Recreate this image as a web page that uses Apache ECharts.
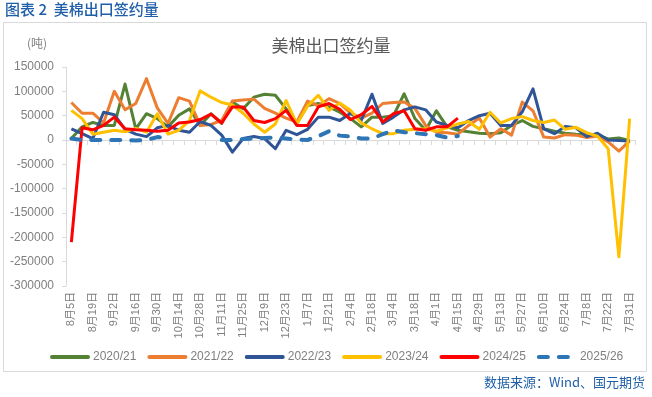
<!DOCTYPE html>
<html>
<head>
<meta charset="utf-8">
<script src="https://cdn.jsdelivr.net/npm/echarts@6/dist/echarts.min.js"></script>
<style>
  html, body { margin: 0; padding: 0; background: #fff; }
  #chart-container { width: 652px; height: 397px; }
</style>
</head>
<body>
<div id="chart-container"></div>
<script>
var dom = document.getElementById("chart-container");
var myChart = echarts.init(dom, null, { renderer: "canvas" });

// weekly categories (every other one is shown on the axis)
var categories = [
  "8月5日", "8月12日", "8月19日", "8月26日", "9月2日", "9月9日", "9月16日", "9月23日",
  "9月30日", "10月7日", "10月14日", "10月21日", "10月28日", "11月4日", "11月11日", "11月18日",
  "11月25日", "12月2日", "12月9日", "12月16日", "12月23日", "12月30日", "1月7日", "1月14日",
  "1月21日", "1月28日", "2月4日", "2月11日", "2月18日", "2月25日", "3月4日", "3月11日",
  "3月18日", "3月25日", "4月1日", "4月8日", "4月15日", "4月22日", "4月29日", "5月6日",
  "5月13日", "5月20日", "5月27日", "6月3日", "6月10日", "6月17日", "6月24日", "7月1日",
  "7月8日", "7月15日", "7月22日", "7月29日", "7月31日"
];

var seasons = ["2020/21", "2021/22", "2022/23", "2023/24", "2024/25", "2025/26"];
var colors = ["#548235", "#ED7D31", "#2F5597", "#FFC000", "#FF0000", "#2E75B6"];

// values in tonnes
var s2020 = [3000, 27000, 36000, 30000, 30000, 115000, 23000, 54000, 44000, 27000, 51000, 64000, 30000,
  54000, 34000, 78000, 64000, 88000, 94000, 92000, 64000, 34000, 71000, 75000, 68000, 57000,
  44000, 27000, 47000, 47000, 50000, 95000, 44000, 20000, 60000, 27000, 20000, 17000, 14000,
  13000, 15000, 30000, 40000, 28000, 23000, 18000, 14000, 12000, 11000, 10000, 2000, 4000, -1000];
var s2021 = [77000, 55000, 55000, 35000, 100000, 62000, 75000, 126000, 66000, 34000, 87000, 80000, 30000,
  32000, 40000, 80000, 82000, 84000, 65000, 55000, 45000, 37000, 80000, 70000, 85000, 75000,
  55000, 45000, 55000, 75000, 77000, 78000, 65000, 30000, 16000, 15000, 12000, 30000, 45000,
  6000, 23000, 10000, 78000, 60000, 6000, 4000, 11000, 10000, 5000, 8000, -4000, -23000, -2000];
var s2022 = [23000, 13000, 3000, 57000, 52000, 22000, 12000, 7000, 25000, 30000, 20000, 16000, 38000,
  30000, 10000, -25000, 3000, 7000, 3000, -18000, 20000, 11000, 22000, 47000, 47000, 40000,
  55000, 40000, 94000, 34000, 47000, 62000, 68000, 62000, 37000, 30000, 25000, 40000, 50000,
  55000, 30000, 30000, 58000, 105000, 23000, 13000, 28000, 25000, 7000, 14000, 0, -1000, -2000];
var s2023 = [61000, 44000, 12000, 16000, 20000, 17000, 24000, 16000, 54000, 12000, 20000, 40000, 101000,
  88000, 77000, 72000, 55000, 33000, 16000, 33000, 81000, 33000, 70000, 92000, 61000, 76000,
  61000, 35000, 23000, 13000, 13000, 20000, 22000, 23000, 18000, 25000, 33000, 38000, 22000,
  57000, 35000, 44000, 48000, 40000, 36000, 41000, 22000, 26000, 15000, 8000, -18000, -240000, 44000];
var s2024 = [-210000, 25000, 21000, 30000, 47000, 23000, 21000, 20000, 18000, 20000, 35000, 37000, 42000,
  53000, 35000, 68000, 68000, 40000, 36000, 44000, 61000, 30000, 30000, 68000, 75000, 63000,
  42000, 52000, 69000, 37000, 54000, 60000, 23000, 20000, 27000, 27000, 45000];
var s2025 = [3000, 0, 0, 0, 0, 0, -1000, 0, 6000, 4000, null, null, null,
  null, 0, 0, 2000, 3000, 4000, 5000, 3000, 1000, 0, 8000, 18000, 9000,
  7000, 3000, 3000, 12000, 20000, 16000, 14000, 12000, 10000, 5000, 8000];

var seriesData = [s2020, s2021, s2022, s2023, s2024, s2025];

var fontFamily = "'Liberation Sans', 'Noto Sans CJK SC', sans-serif";

var series = seasons.map(function (name, i) {
  var dashed = i === 5;
  return {
    name: name,
    type: "line",
    xAxisIndex: 0,
    yAxisIndex: 0,
    symbol: "none",
    smooth: false,
    connectNulls: false,
    z: 2 + i,
    itemStyle: { color: colors[i] },
    lineStyle: {
      color: colors[i],
      width: dashed ? 4 : 3,
      type: dashed ? [9, 11] : "solid",
      cap: dashed ? "round" : "butt",
      join: "round"
    },
    data: seriesData[i]
  };
});

var option = {
  animation: false,
  backgroundColor: "#ffffff",
  textStyle: { fontFamily: fontFamily },
  title: {
    text: "美棉出口签约量",
    left: 326,
    textAlign: "center",
    top: 34,
    textStyle: { color: "#595959", fontSize: 17, fontWeight: "normal", fontFamily: fontFamily }
  },
  graphic: [
    {
      type: "rect",
      shape: { x: 3.5, y: 22.5, width: 643, height: 349 },
      style: { fill: null, stroke: "#d9d9d9", lineWidth: 1 },
      z: -1
    },
    {
      type: "text",
      left: 5,
      top: 2,
      style: { text: "图表 2  美棉出口签约量", fill: "#1F5FA8", font: "500 15px 'Noto Sans CJK SC', sans-serif" }
    },
    {
      type: "text",
      left: 27,
      top: 37,
      style: { text: "(吨)", fill: "#7f7f7f", font: "12px 'Noto Sans CJK SC', sans-serif" }
    },
    {
      type: "text",
      right: 7,
      top: 376,
      style: { text: "数据来源：Wind、国元期货", fill: "#1F5FA8", font: "13px 'Noto Sans CJK SC', sans-serif" }
    }
  ],
  legend: {
    data: seasons,
    left: 45,
    top: 346,
    itemWidth: 36,
    itemHeight: 12,
    itemGap: 11,
    itemStyle: { opacity: 0 },
    lineStyle: { width: 4, cap: "round" },
    textStyle: { color: "#7f7f7f", fontSize: 12, fontFamily: fontFamily }
  },
  grid: { left: 66, right: 17, top: 67, bottom: 111, containLabel: false },
  xAxis: [
    {
      type: "category",
      data: categories,
      boundaryGap: true,
      position: "bottom",
      axisLine: { show: false, onZero: false },
      axisTick: { show: false },
      axisLabel: {
        interval: 1,
        rotate: 90,
        margin: 6,
        color: "#7f7f7f",
        fontSize: 11,
        fontFamily: fontFamily
      }
    },
    {
      type: "category",
      data: categories,
      boundaryGap: true,
      position: "bottom",
      axisLine: { show: true, onZero: true, lineStyle: { color: "#d9d9d9", width: 1 } },
      axisTick: { show: true, interval: 0, length: 5, lineStyle: { color: "#d9d9d9" } },
      axisLabel: { show: false }
    }
  ],
  yAxis: {
    type: "value",
    min: -300000,
    max: 150000,
    interval: 50000,
    axisLine: { show: true, lineStyle: { color: "#d9d9d9" } },
    axisTick: { show: true, length: 4, lineStyle: { color: "#d9d9d9" } },
    splitLine: { show: false },
    axisLabel: {
      color: "#7f7f7f",
      fontSize: 12,
      margin: 12,
      fontFamily: fontFamily,
      formatter: function (v) { return String(v); }
    }
  },
  series: series
};

myChart.setOption(option);

window.addEventListener("resize", function () {
  myChart.resize();
});
</script>
</body>
</html>
